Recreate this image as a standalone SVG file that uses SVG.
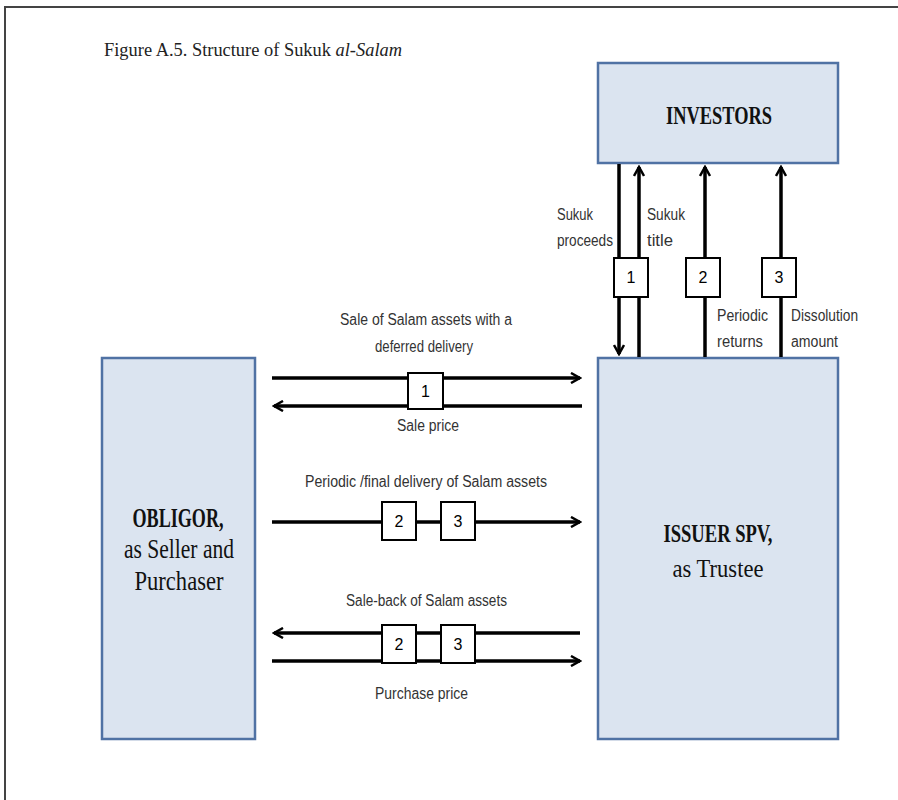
<svg xmlns="http://www.w3.org/2000/svg" width="898" height="800" viewBox="0 0 898 800">
<defs>
<marker id="ah" viewBox="0 0 12 12" refX="10" refY="6" markerWidth="12" markerHeight="12" markerUnits="userSpaceOnUse" orient="auto">
<path d="M1,1 L10,6 L1,11" fill="none" stroke="#000" stroke-width="2.5"/>
</marker>
<style>
.box{fill:#dbe4f0;stroke:#5072a4;stroke-width:2.5}
.arr{stroke:#000;stroke-width:3.5;fill:none;marker-end:url(#ah)}
.sq{fill:#fff;stroke:#000;stroke-width:2}
.lbl{font-family:"Liberation Sans",Arial,sans-serif;font-size:16px;fill:#333}
.num{font-family:"Liberation Sans",Arial,sans-serif;font-size:16px;fill:#000;text-anchor:middle}
.big{font-family:"Liberation Serif","Times New Roman",serif;fill:#111;text-anchor:middle}
</style>
</defs>
<rect width="898" height="800" fill="#fff"/>
<path d="M5,800 V7 H898" fill="none" stroke="#444" stroke-width="2"/>
<text x="104" y="56" font-family="Liberation Serif,serif" font-size="18" fill="#222" textLength="298" lengthAdjust="spacingAndGlyphs">Figure A.5. Structure of Sukuk <tspan font-style="italic">al-Salam</tspan></text>

<g id="investors">
<rect class="box" x="598" y="63" width="240" height="100"/>
<text class="big" x="719" y="124" font-size="25" font-weight="bold" textLength="106" lengthAdjust="spacingAndGlyphs">INVESTORS</text>
</g>
<g id="obligor">
<rect class="box" x="102" y="358" width="153" height="381"/>
<text class="big" x="178" y="527" font-size="27" font-weight="bold" textLength="91" lengthAdjust="spacingAndGlyphs">OBLIGOR,</text>
<text class="big" x="179" y="558" font-size="27" textLength="110" lengthAdjust="spacingAndGlyphs">as Seller and</text>
<text class="big" x="179" y="590" font-size="27" textLength="89" lengthAdjust="spacingAndGlyphs">Purchaser</text>
</g>
<g id="issuer">
<rect class="box" x="598" y="358" width="240" height="381"/>
<text class="big" x="718" y="542" font-size="26" font-weight="bold" textLength="109" lengthAdjust="spacingAndGlyphs">ISSUER SPV,</text>
<text class="big" x="718" y="577" font-size="26" textLength="91" lengthAdjust="spacingAndGlyphs">as Trustee</text>
</g>

<g id="connectors">
<line class="arr" x1="619" y1="164" x2="619" y2="354"/>
<line class="arr" x1="639" y1="357" x2="639" y2="167"/>
<line class="arr" x1="705" y1="357" x2="705" y2="167"/>
<line class="arr" x1="781" y1="357" x2="781" y2="167"/>
<line class="arr" x1="272" y1="378" x2="580" y2="378"/>
<line class="arr" x1="582" y1="406" x2="274" y2="406"/>
<line class="arr" x1="272" y1="522" x2="580" y2="522"/>
<line class="arr" x1="580" y1="633" x2="274" y2="633"/>
<line class="arr" x1="272" y1="661" x2="580" y2="661"/>
</g>

<g id="markers">
<rect class="sq" x="614" y="258" width="34" height="39"/><text class="num" x="631" y="283">1</text>
<rect class="sq" x="686" y="258" width="34" height="39"/><text class="num" x="703" y="283">2</text>
<rect class="sq" x="762" y="258" width="34" height="39"/><text class="num" x="779" y="283">3</text>
<rect class="sq" x="408" y="373" width="35" height="36"/><text class="num" x="425.5" y="397">1</text>
<rect class="sq" x="382" y="502" width="34" height="38"/><text class="num" x="399" y="527">2</text>
<rect class="sq" x="441" y="502" width="34" height="38"/><text class="num" x="458" y="527">3</text>
<rect class="sq" x="382" y="625" width="34" height="38"/><text class="num" x="399" y="650">2</text>
<rect class="sq" x="441" y="625" width="34" height="38"/><text class="num" x="458" y="650">3</text>
</g>

<g id="labels">
<text class="lbl" x="557" y="220" textLength="36" lengthAdjust="spacingAndGlyphs">Sukuk</text>
<text class="lbl" x="557" y="246" textLength="56" lengthAdjust="spacingAndGlyphs">proceeds</text>
<text class="lbl" x="647" y="220" textLength="38" lengthAdjust="spacingAndGlyphs">Sukuk</text>
<text class="lbl" x="647" y="246" textLength="26" lengthAdjust="spacingAndGlyphs">title</text>
<text class="lbl" x="717" y="321" textLength="51" lengthAdjust="spacingAndGlyphs">Periodic</text>
<text class="lbl" x="717" y="347" textLength="46" lengthAdjust="spacingAndGlyphs">returns</text>
<text class="lbl" x="791" y="321" textLength="67" lengthAdjust="spacingAndGlyphs">Dissolution</text>
<text class="lbl" x="791" y="347" textLength="47" lengthAdjust="spacingAndGlyphs">amount</text>
<text class="lbl" x="340" y="325" textLength="172" lengthAdjust="spacingAndGlyphs">Sale of Salam assets with a</text>
<text class="lbl" x="375" y="352" textLength="98" lengthAdjust="spacingAndGlyphs">deferred delivery</text>
<text class="lbl" x="397" y="431" textLength="62" lengthAdjust="spacingAndGlyphs">Sale price</text>
<text class="lbl" x="305" y="487" textLength="242" lengthAdjust="spacingAndGlyphs">Periodic /final delivery of Salam assets</text>
<text class="lbl" x="346" y="606" textLength="161" lengthAdjust="spacingAndGlyphs">Sale-back of Salam assets</text>
<text class="lbl" x="375" y="699" textLength="93" lengthAdjust="spacingAndGlyphs">Purchase price</text>
</g>
</svg>
